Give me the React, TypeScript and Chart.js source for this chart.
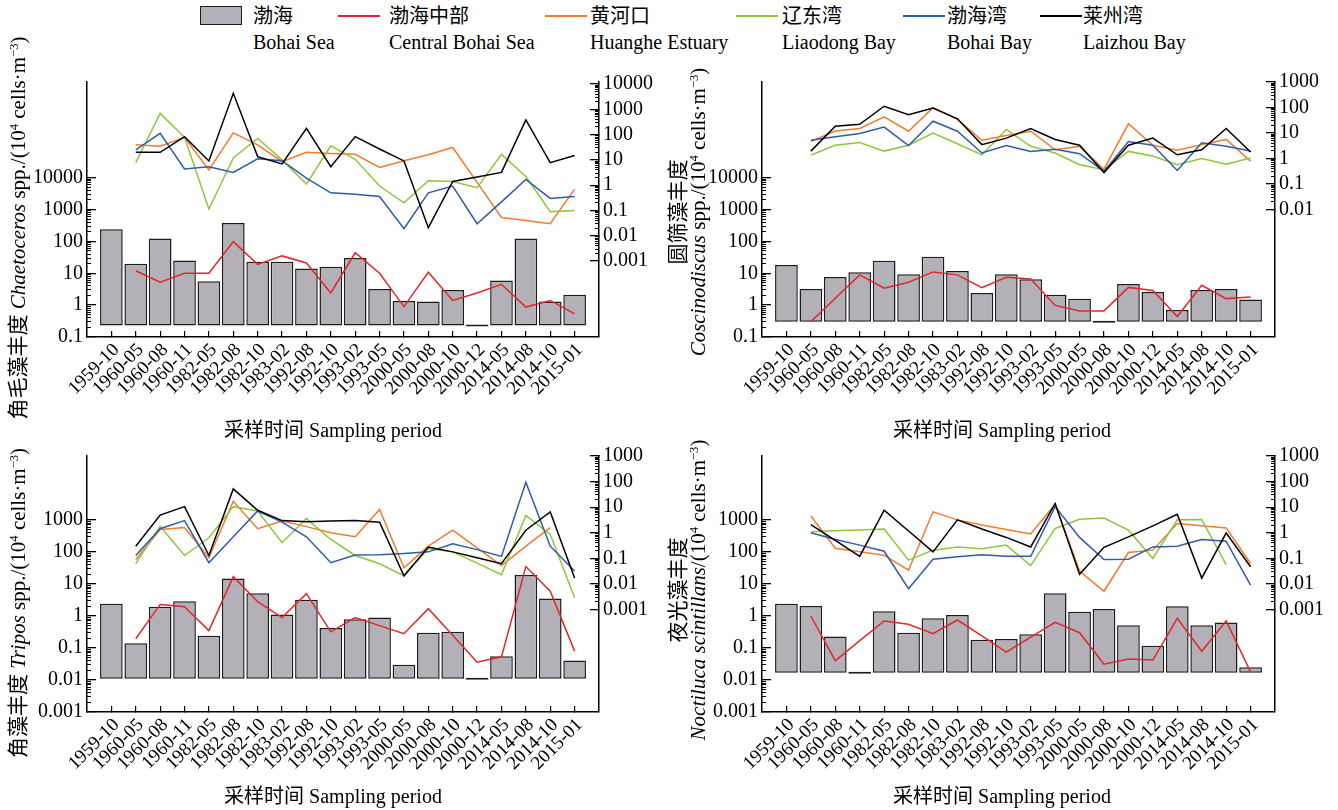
import React, { useEffect, useRef } from "react";
import { Chart, registerables } from "chart.js";

Chart.register(...registerables);

// ---------------- data ----------------
const categories = [
  "1959-10", "1960-05", "1960-08", "1960-11", "1982-05", "1982-08", "1982-10",
  "1983-02", "1992-08", "1992-10", "1993-02", "1993-05", "2000-05", "2000-08",
  "2000-10", "2000-12", "2014-05", "2014-08", "2014-10", "2015-01",
];

const legendZh = ["渤海", "渤海中部", "黄河口", "辽东湾", "渤海湾", "莱州湾"];
const legendEn = ["Bohai Sea", "Central Bohai Sea", "Huanghe Estuary", "Liaodong Bay", "Bohai Bay", "Laizhou Bay"];

// Chaetoceros spp.
const chaetoBohaiSea = [240, 20, 124, 25, 5.6, 375, 23, 23, 14, 16, 30, 3.2, 1.35, 1.3, 3.0, 0.23, 5.9, 124, 1.3, 2.1];
const chaetoCentral = [null, 12, 5.2, 10, 10, 98, 19, 35, 21, 2.4, 44, 10, 0.9, 10.7, 1.4, 2.4, 4.5, 0.87, 1.4, 0.53];
const chaetoHuanghe = [null, 40, 35, 78, 4, 117, 39, 8.5, 20, 18, 16.6, 5, 9.3, 16, 31, 1.3, 0.053, 0.04, 0.03, 0.7];
const chaetoLiaodong = [null, 7.8, 690, 78, 0.115, 12, 71, 10, 1.1, 36, 10.5, 0.93, 0.2, 1.5, 1.4, 0.8, 16.6, 2.2, 0.09, 0.1];
const chaetoBohaiBay = [null, 25, 112, 4.4, 5.4, 3.2, 11, 9.3, 1.9, 0.5, 0.44, 0.36, 0.019, 0.5, 0.93, 0.03, 0.22, 1.7, 0.3, 0.36];
const chaetoLaizhou = [null, 20, 20, 83, 9.1, 4300, 13.5, 6.9, 178, 5.4, 83, 27, 9.1, 0.021, 1.4, 2.1, 3.2, 380, 7.8, 15];

// Coscinodiscus spp.
const coscinoBohaiSea = [18, 3.2, 7.6, 10.7, 24.5, 9.3, 33, 11.8, 2.4, 9.3, 6.5, 2.1, 1.58, 0.3, 4.6, 2.6, 0.7, 3.0, 3.2, 1.5];
const coscinoCentral = [null, 0.3, 1.65, 8.9, 3.4, 5.2, 11, 8.9, 3.5, 7.5, 6.6, 0.98, 0.66, 0.66, 3.6, 2.9, 0.44, 4.2, 1.6, 1.8];
const coscinoHuanghe = [null, 4.7, 12, 15, 43, 11.7, 99, 34, 5.2, 7.9, 11.7, 2.2, 3.0, 0.38, 23, 3.3, 2.1, 3.5, 5.6, 0.78];
const coscinoLiaodong = [null, 1.35, 3.3, 4.2, 1.95, 3.3, 10, 3.8, 1.38, 13.8, 3.0, 1.65, 0.57, 0.36, 1.9, 1.26, 0.57, 1.0, 0.6, 1.05];
const coscinoBohaiBay = [null, 5.2, 7.2, 9.5, 17, 3.2, 29, 11.7, 1.65, 3.2, 1.9, 2.3, 1.55, 0.32, 4.6, 3.3, 0.34, 4.1, 3.0, 1.95];
const coscinoLaizhou = [null, 1.95, 18.6, 22, 112, 52, 95, 36, 3.5, 6.3, 15, 5.6, 3.3, 0.28, 3.3, 6.3, 1.4, 2.2, 15, 1.8];

// Tripos spp.
const triposBohaiSea = [2.4, 0.14, 1.95, 2.9, 0.24, 14.8, 5.1, 1.12, 3.2, 0.42, 0.79, 0.89, 0.03, 0.3, 0.32, 0.011, 0.055, 19, 3.5, 0.041];
const triposCentral = [null, 0.195, 2.3, 1.95, 0.35, 17, 2.8, 0.89, 5.0, 0.32, 0.89, 0.5, 0.28, 1.7, 0.25, 0.036, 0.053, 35, 6, 0.08];
const triposHuanghe = [null, 0.09, 1.35, 1.6, 0.107, 17, 1.45, 2.9, 1.74, 1.0, 0.7, 8.2, 0.043, 0.3, 1.26, 0.26, 0.052, 0.3, 1.6, null];
const triposLiaodong = [null, 0.062, 1.8, 0.13, 0.64, 10.5, 7.1, 0.41, 3.6, 0.55, 0.13, 0.062, 0.021, 0.24, 0.18, 0.065, 0.023, 4.8, 0.87, 0.0029];
const triposBohaiBay = [null, 0.13, 1.45, 3.0, 0.068, 0.7, 7.1, 2.6, 0.7, 0.068, 0.135, 0.14, 0.155, 0.18, 0.37, 0.22, 0.12, 95, 0.3, 0.032];
const triposLaizhou = [null, 0.3, 4.9, 10.5, 0.13, 52, 7.6, 3.0, 2.7, 2.9, 3.0, 2.6, 0.021, 0.28, 0.18, 0.107, 0.062, 1.26, 6.5, 0.017];

// Noctiluca scintillans
const noctiBohaiSea = [2.4, 2.05, 0.23, 0.017, 1.4, 0.3, 0.85, 1.07, 0.18, 0.19, 0.27, 5.1, 1.35, 1.66, 0.51, 0.117, 2.0, 0.51, 0.63, 0.025];
const noctiCentral = [null, 1.0, 0.04, 0.17, 0.7, 0.55, 0.28, 0.75, 0.24, 0.074, 0.22, 0.63, 0.3, 0.031, 0.045, 0.042, 0.85, 0.079, 0.7, 0.018];
const noctiHuanghe = [null, 4.5, 0.25, 0.18, 0.134, 0.035, 6.6, 3.2, 2.0, 1.35, 0.9, 13, 0.032, 0.0052, 0.17, 0.21, 2.3, 1.87, 1.55, 0.063];
const noctiLiaodong = [null, 1.1, 1.2, 1.28, 1.4, 0.085, 0.21, 0.28, 0.24, 0.33, 0.052, 1.48, 3.4, 3.8, 1.27, 0.1, 3.2, 3.3, 0.057, null];
const noctiBohaiBay = [null, 1.0, 0.55, 0.33, 0.19, 0.0066, 0.093, 0.115, 0.14, 0.12, 0.12, 10.5, 0.66, 0.091, 0.093, 0.28, 0.3, 0.55, 0.47, 0.009];
const noctiLaizhou = [null, 2.1, 0.51, 0.12, 7.7, 1.17, 0.18, 3.2, 1.4, 0.66, 0.28, 14, 0.024, 0.27, 0.69, 1.87, 5.3, 0.017, 0.98, 0.047];

// bar base values (value where bars start on the left axis)
const barBases = [0.23, 0.3, 0.011, 0.017];

// axis tick labels
const ticksLeftTop = [0.1, 1, 10, 100, 1000, 10000];
const ticksRightA = [0.001, 0.01, 0.1, 1, 10, 100, 1000, 10000];
const ticksRightB = [0.01, 0.1, 1, 10, 100, 1000];
const ticksLeftBottom = [0.001, 0.01, 0.1, 1, 10, 100, 1000];
const ticksRightBottom = [0.001, 0.01, 0.1, 1, 10, 100, 1000];

// ---------------- styles ----------------
const FONT = '"Liberation Serif", "Noto Sans CJK SC", serif';
const COLORS = {
  bar: "#b3b1b7",
  barBorder: "#1c1c1c",
  central: "#e3262b",
  huanghe: "#f47a30",
  liaodong: "#8dc63f",
  bohaiBay: "#2d5ca8",
  laizhou: "#000000",
};
const M = { l: 70, r: 70, t: 14, b: 95 };

type Series = (number | null)[];
type PanelCfg = {
  key: string;
  plot: { l: number; r: number; t: number; b: number };
  bars: Series;
  base: number;
  central: Series;
  huanghe: Series;
  liaodong: Series;
  bohaiBay: Series;
  laizhou: Series;
  left: { min: number; max: number; ticks: number[] };
  right: { min: number; max: number; ticks: number[] };
};

const panels: PanelCfg[] = [
  {
    key: "a", plot: { l: 87, r: 599, t: 82, b: 337 },
    bars: chaetoBohaiSea, base: barBases[0], central: chaetoCentral, huanghe: chaetoHuanghe,
    liaodong: chaetoLiaodong, bohaiBay: chaetoBohaiBay, laizhou: chaetoLaizhou,
    left: { min: 0.1, max: 1e7, ticks: ticksLeftTop },
    right: { min: 1e-6, max: 1.2e4, ticks: ticksRightA },
  },
  {
    key: "b", plot: { l: 762, r: 1275, t: 82, b: 337 },
    bars: coscinoBohaiSea, base: barBases[1], central: coscinoCentral, huanghe: coscinoHuanghe,
    liaodong: coscinoLiaodong, bohaiBay: coscinoBohaiBay, laizhou: coscinoLaizhou,
    left: { min: 0.1, max: 1e7, ticks: ticksLeftTop },
    right: { min: 1e-7, max: 1e3, ticks: ticksRightB },
  },
  {
    key: "c", plot: { l: 87, r: 599, t: 456, b: 712 },
    bars: triposBohaiSea, base: barBases[2], central: triposCentral, huanghe: triposHuanghe,
    liaodong: triposLiaodong, bohaiBay: triposBohaiBay, laizhou: triposLaizhou,
    left: { min: 0.001, max: 1e5, ticks: ticksLeftBottom },
    right: { min: 1e-7, max: 1e3, ticks: ticksRightBottom },
  },
  {
    key: "d", plot: { l: 762, r: 1275, t: 456, b: 712 },
    bars: noctiBohaiSea, base: barBases[3], central: noctiCentral, huanghe: noctiHuanghe,
    liaodong: noctiLiaodong, bohaiBay: noctiBohaiBay, laizhou: noctiLaizhou,
    left: { min: 0.001, max: 1e5, ticks: ticksLeftBottom },
    right: { min: 1e-7, max: 1e3, ticks: ticksRightBottom },
  },
];

function minorTicks(majors: number[]) {
  const out: number[] = [];
  for (let i = 0; i < majors.length - 1; i++) {
    for (let k = 2; k <= 9; k++) out.push(parseFloat((majors[i] * k).toPrecision(8)));
  }
  return out;
}

const toXY = (arr: Series) => arr.map((v, i) => ({ x: i, y: v }));

function logAxis(position: "left" | "right", cfg: { min: number; max: number; ticks: number[] }, major: boolean) {
  const width = major ? (position === "left" ? M.l : M.r) : 0;
  return {
    type: "logarithmic",
    position,
    weight: major ? 1 : 0,
    min: cfg.min,
    max: cfg.max,
    afterBuildTicks: (s: any) => {
      s.ticks = (major ? cfg.ticks : minorTicks(cfg.ticks)).map((v) => ({ value: v }));
    },
    afterFit: (s: any) => {
      s.width = width;
      s.paddingTop = 0;
      s.paddingBottom = 0;
    },
    ticks: major
      ? { display: true, color: "#000", padding: 13, font: { family: FONT, size: 20 }, callback: (v: number) => String(v) }
      : { display: false },
    grid: { drawOnChartArea: false, drawTicks: true, tickLength: major ? -9 : -4, color: "#000", lineWidth: major ? 1.3 : 1 },
    border: { display: major, color: "#000", width: 1.5 },
  };
}

function Panel({ cfg }: { cfg: PanelCfg }) {
  const ref = useRef<HTMLCanvasElement | null>(null);
  const W = cfg.plot.r - cfg.plot.l + M.l + M.r;
  const H = cfg.plot.b - cfg.plot.t + M.t + M.b;

  useEffect(() => {
    if (!ref.current) return;
    const line = (label: string, data: Series, color: string, axis: string) => ({
      type: "line" as const,
      label,
      data: toXY(data),
      borderColor: color,
      backgroundColor: color,
      borderWidth: 1.5,
      pointRadius: 0,
      tension: 0,
      yAxisID: axis,
      order: 0,
    });
    const chart = new Chart(ref.current, {
      type: "bar",
      data: {
        datasets: [
          line(legendZh[5], cfg.laizhou, COLORS.laizhou, "y2"),
          line(legendZh[4], cfg.bohaiBay, COLORS.bohaiBay, "y2"),
          line(legendZh[3], cfg.liaodong, COLORS.liaodong, "y2"),
          line(legendZh[2], cfg.huanghe, COLORS.huanghe, "y2"),
          line(legendZh[1], cfg.central, COLORS.central, "y"),
          {
            type: "bar" as const,
            label: legendZh[0],
            data: toXY(cfg.bars),
            yAxisID: "y",
            backgroundColor: COLORS.bar,
            borderColor: COLORS.barBorder,
            borderWidth: 1.5,
            borderSkipped: false,
            base: cfg.base,
            minBarLength: 2,
            barPercentage: 0.93,
            categoryPercentage: 1,
            order: 5,
          } as any,
        ],
      },
      options: {
        animation: false,
        responsive: false,
        maintainAspectRatio: false,
        events: [],
        layout: { padding: { top: M.t, left: 0, right: 0, bottom: 0 } },
        plugins: { legend: { display: false }, tooltip: { enabled: false }, title: { display: false } },
        scales: {
          x: {
            type: "linear",
            position: "bottom",
            min: -1,
            max: 20,
            offset: false,
            afterBuildTicks: (s: any) => {
              s.ticks = categories.map((_, i) => ({ value: i }));
            },
            afterFit: (s: any) => {
              s.height = M.b;
              s.paddingLeft = 0;
              s.paddingRight = 0;
            },
            ticks: {
              autoSkip: false,
              minRotation: 45,
              maxRotation: 45,
              padding: 8,
              labelOffset: 5,
              color: "#000",
              font: { family: FONT, size: 19 },
              callback: (v: number) => categories[v] ?? "",
            },
            grid: { drawOnChartArea: false, drawTicks: true, tickLength: -6, color: "#000", lineWidth: 1.2, offset: false },
            border: { display: true, color: "#000", width: 1.5 },
          },
          y: logAxis("left", cfg.left, true),
          yMinor: logAxis("left", cfg.left, false),
          y2: logAxis("right", cfg.right, true),
          y2Minor: logAxis("right", cfg.right, false),
        } as any,
      },
    });
    return () => chart.destroy();
  }, [cfg]);

  return (
    <canvas
      ref={ref}
      width={W}
      height={H}
      style={{ position: "absolute", left: cfg.plot.l - M.l, top: cfg.plot.t - M.t, width: W, height: H }}
    />
  );
}

function VTitle({ cx, cy, children }: { cx: number; cy: number; children: React.ReactNode }) {
  return (
    <div
      style={{
        position: "absolute",
        left: cx,
        top: cy,
        transform: "translate(-50%, -50%) rotate(-90deg)",
        whiteSpace: "nowrap",
        fontSize: 21,
        lineHeight: "24px",
      }}
    >
      {children}
    </div>
  );
}

function HTitle({ cx, cy, text }: { cx: number; cy: number; text: string }) {
  return (
    <div
      style={{
        position: "absolute",
        left: cx,
        top: cy,
        transform: "translate(-50%, -50%)",
        whiteSpace: "nowrap",
        fontSize: 20,
        lineHeight: "24px",
      }}
    >
      {text}
    </div>
  );
}

const Unit = () => (
  <>
    /(10<sup style={{ fontSize: "0.6em", verticalAlign: "0.55em", lineHeight: 0 }}>4</sup> cells·m
    <sup style={{ fontSize: "0.6em", verticalAlign: "0.55em", lineHeight: 0 }}>−3</sup>)
  </>
);

const legendSwatchX = [200, 338, 545, 736, 903, 1040];
const legendTextX = [253, 389, 590, 782, 947, 1083];
const legendColors = [COLORS.bar, COLORS.central, COLORS.huanghe, COLORS.liaodong, COLORS.bohaiBay, COLORS.laizhou];

function Legend() {
  return (
    <>
      {legendZh.map((zh, i) => (
        <React.Fragment key={zh}>
          {i === 0 ? (
            <div
              style={{
                position: "absolute",
                left: legendSwatchX[i],
                top: 6,
                width: 42,
                height: 19,
                boxSizing: "border-box",
                background: COLORS.bar,
                border: `1.5px solid ${COLORS.barBorder}`,
              }}
            />
          ) : (
            <div
              style={{
                position: "absolute",
                left: legendSwatchX[i],
                top: 15,
                width: 42,
                height: 2,
                background: legendColors[i],
              }}
            />
          )}
          <div style={{ position: "absolute", left: legendTextX[i], top: 4, fontSize: 20, lineHeight: "24px", whiteSpace: "nowrap" }}>
            {zh}
          </div>
          <div style={{ position: "absolute", left: legendTextX[i], top: 30, fontSize: 20, lineHeight: "24px", whiteSpace: "nowrap" }}>
            {legendEn[i]}
          </div>
        </React.Fragment>
      ))}
    </>
  );
}

export default function App() {
  return (
    <div
      style={{
        position: "absolute",
        left: 0,
        top: 0,
        width: 1338,
        height: 810,
        background: "#fff",
        color: "#000",
        fontFamily: FONT,
        overflow: "hidden",
      }}
    >
      <Legend />
      {panels.map((p) => (
        <Panel key={p.key} cfg={p} />
      ))}
      <VTitle cx={18} cy={228}>
        角毛藻丰度 <i>Chaetoceros</i> spp.<Unit />
      </VTitle>
      <VTitle cx={678} cy={212}>圆筛藻丰度</VTitle>
      <VTitle cx={698} cy={212}>
        <i>Coscinodiscus</i> spp.<Unit />
      </VTitle>
      <VTitle cx={18} cy={603}>
        角藻丰度 <i>Tripos</i> spp.<Unit />
      </VTitle>
      <VTitle cx={678} cy={590}>夜光藻丰度</VTitle>
      <VTitle cx={698} cy={590}>
        <i>Noctiluca scintillans</i>
        <Unit />
      </VTitle>
      <HTitle cx={333} cy={430} text="采样时间 Sampling period" />
      <HTitle cx={1002} cy={430} text="采样时间 Sampling period" />
      <HTitle cx={333} cy={796} text="采样时间 Sampling period" />
      <HTitle cx={1002} cy={796} text="采样时间 Sampling period" />
    </div>
  );
}
